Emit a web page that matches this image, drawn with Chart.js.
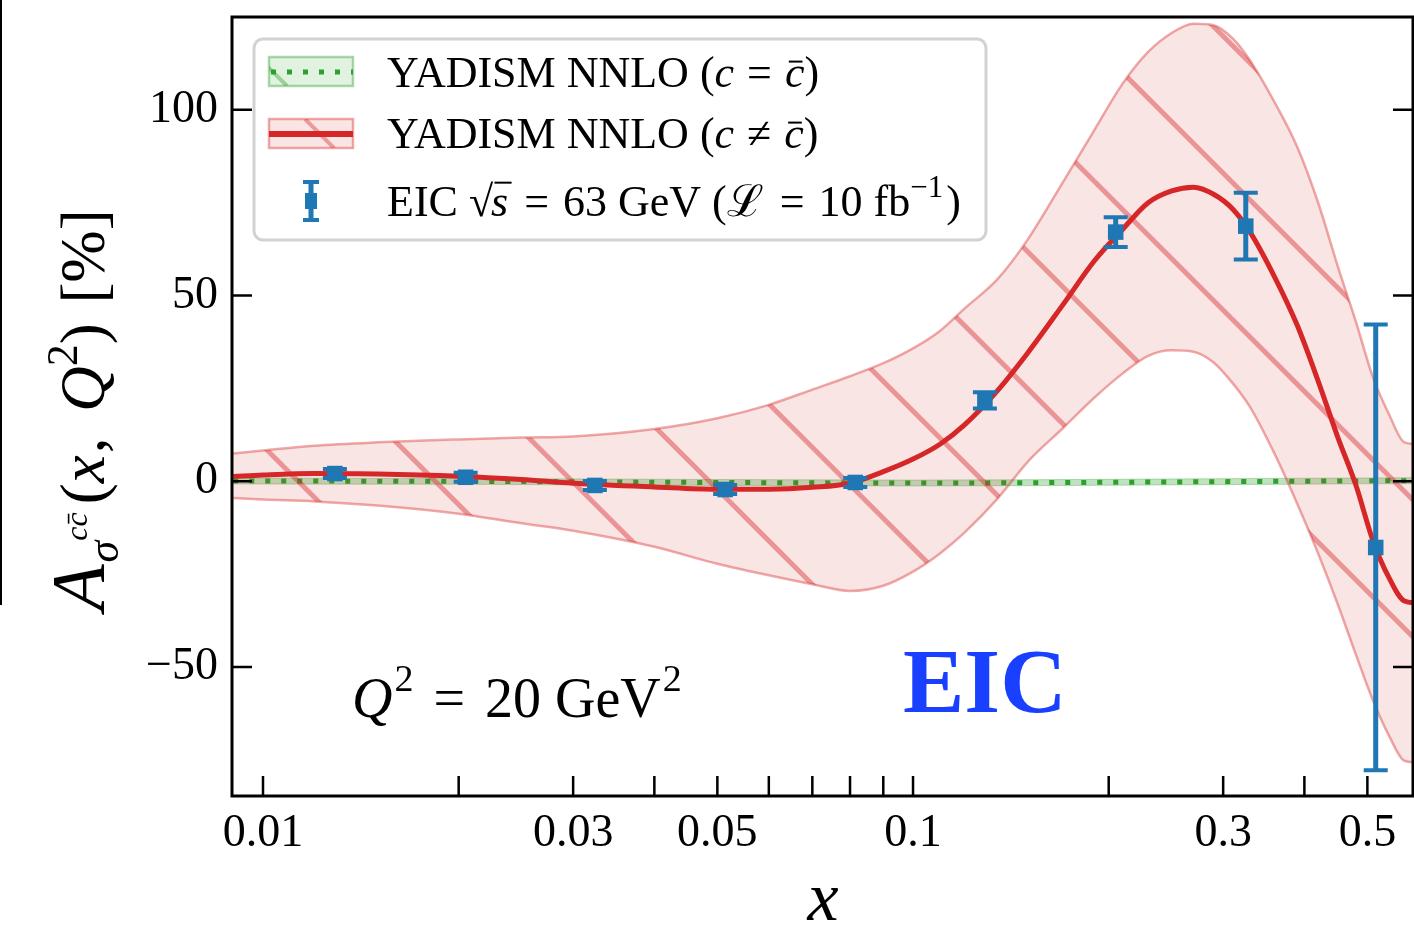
<!DOCTYPE html>
<html>
<head>
<meta charset="utf-8">
<script src="https://cdn.jsdelivr.net/npm/chart.js@4"></script>
<style>
html, body { margin: 0; padding: 0; background: #fff; }
</style>
</head>
<body>
<canvas id="asymChart" width="1414" height="928"></canvas>
<script>
// x grid of the theory curves (log x)
const xGrid = [0.009, 0.01, 0.012, 0.015, 0.02, 0.025, 0.03, 0.04, 0.05, 0.06, 0.07, 0.08, 0.09, 0.1, 0.11, 0.12, 0.135, 0.15, 0.17, 0.19,
  0.21, 0.23, 0.25, 0.27, 0.29, 0.31, 0.33, 0.36, 0.39, 0.42, 0.45, 0.48, 0.51, 0.54, 0.57, 0.6];
// YADISM NNLO (c != cbar): central value and uncertainty band [%]
const redCentral = [1.3, 1.7, 2.1, 2.0, 1.4, 0.5, -0.5, -1.5, -2.1, -2.1, -1.6, -0.5, 2.6, 6.0, 10.0, 15.2, 24.5, 34.5, 47.5, 59.3,
  67.8, 75, 78.2, 79.2, 77.3, 73.4, 67.1, 55, 42, 27, 12, -1, -16, -26, -32.2, -32.8];
const redUpper = [7.5, 8.3, 9.6, 10.5, 11.3, 11.8, 12.1, 14.1, 17, 20.6, 24.7, 28.3, 31.8, 35.8, 40.5, 46.5, 54.5, 65, 80.5, 94.5,
  107, 115.6, 120.7, 123.2, 122.8, 119.3, 113.3, 102, 90, 75, 58, 43, 28, 18, 10.5, 10];
const redLower = [-4.5, -4.9, -5.4, -6.5, -8.7, -11.3, -13.3, -17.6, -22.2, -25.3, -27.7, -29.5, -28.1, -24.3, -19.4, -13.8, -4.6, 5.2, 14.3, 22.5,
  29, 33.8, 35.3, 34.9, 32, 26.5, 20, 7.4, -6, -19.4, -33, -46.6, -59, -68.5, -75.2, -75.7];
// YADISM NNLO (c = cbar)
const greenX = [0.009, 0.02, 0.05, 0.1, 0.2, 0.4, 0.6];
const greenCentral = [0.1, 0.0, -0.3, -0.45, -0.25, 0.05, 0.2];
const greenUpper = [0.9, 0.8, 0.5, 0.35, 0.55, 0.85, 1.0];
const greenLower = [-0.7, -0.8, -1.1, -1.25, -1.05, -0.75, -0.6];
// EIC pseudodata, sqrt(s) = 63 GeV
const eicX = [0.0129, 0.0205, 0.0324, 0.0514, 0.0815, 0.129, 0.205, 0.325, 0.515];
const eicY = [2.1, 1.1, -1.1, -2.2, -0.3, 21.8, 67.1, 68.7, -17.8];
const eicErr = [1.2, 1.2, 1.2, 1.2, 1.2, 2.2, 4, 9, 60];
// ticks
const xTickValues = [0.01, 0.03, 0.05, 0.1, 0.3, 0.5];
const xMinorTicks = [0.02, 0.04, 0.06, 0.07, 0.08, 0.09, 0.2, 0.4];
const yTickValues = [-50, 0, 50, 100];

const SERIF = '"Liberation Serif", "DejaVu Serif", serif';
const RED = '#d62728', GREEN = '#2ca02c', BLUE = '#1f77b4';

const pts = (xs, ys) => xs.map((x, i) => ({ x: x, y: ys[i] }));

// hatch "\\" for the red band
function makeHatch() {
  const s = 137;
  const c = document.createElement('canvas');
  c.width = s; c.height = s;
  const g = c.getContext('2d');
  g.fillStyle = 'rgba(214,39,40,0.12)';
  g.fillRect(0, 0, s, s);
  g.strokeStyle = 'rgba(214,39,40,0.42)';
  g.lineWidth = 5;
  [-46, 91].forEach(k => {
    g.beginPath(); g.moveTo(k - 20, -20); g.lineTo(k + s + 20, s + 20); g.stroke();
  });
  return g.createPattern(c, 'repeat');
}

function fontOf(p, base) {
  return (p.it ? 'italic ' : '') + (p.b ? 'bold ' : '') + (p.size || base) + 'px ' + SERIF;
}
function richWidth(ctx, parts, base) {
  let w = 0;
  parts.forEach(p => { ctx.font = fontOf(p, base); w += ctx.measureText(p.t).width + (p.gap || 0) + (p.pre || 0); });
  return w;
}
function drawRich(ctx, x, y, parts, base) {
  parts.forEach(p => {
    ctx.font = fontOf(p, base);
    const w = ctx.measureText(p.t).width;
    const s = p.size || base;
    const yy = y + (p.dy || 0);
    ctx.fillText(p.t, x + (p.pre || 0), yy);
    if (p.bar) {
      ctx.fillRect(x + (p.pre || 0) + w * 0.2, yy - s * (p.barY || 0.6), w * (p.barW || 0.7), Math.max(1.6, s * 0.045));
    }
    x += w + (p.gap || 0) + (p.pre || 0);
  });
  return x;
}

const legendRows = [
  [{ t: 'YADISM NNLO (' }, { t: 'c', it: true }, { t: ' = ', pre: 2, gap: 2 }, { t: 'c', it: true, bar: true }, { t: ')' }],
  [{ t: 'YADISM NNLO (' }, { t: 'c', it: true }, { t: ' \u2260 ', pre: 2, gap: 2 }, { t: 'c', it: true, bar: true }, { t: ')' }],
  [{ t: 'EIC ' }, { t: '\u221A' }, { t: 's', it: true, bar: true, barY: 0.78, barW: 1.0, pre: -2, gap: 2 },
   { t: ' = ', pre: 3, gap: 3 }, { t: '63 GeV (' },
   { t: '\u2112', gap: 2 }, { t: ' = ', pre: 3, gap: 3 }, { t: '10 fb' }, { t: '\u22121', size: 31, dy: -19, gap: 3 }, { t: ')' }]
];
const yLabelParts = [
  { t: 'A', it: true, size: 76, gap: 2 }, { t: '\u03C3', it: true, size: 44, dy: 14 },
  { t: 'c', it: true, size: 32, dy: -17 }, { t: 'c', it: true, size: 32, dy: -17, bar: true, gap: 8 },
  { t: '(' }, { t: 'x', it: true, gap: 2 }, { t: ', ', gap: 10 }, { t: 'Q', it: true }, { t: '2', size: 44, dy: -27 }, { t: ')' },
  { t: ' [%]', pre: 4 }
];
const q2Parts = [{ t: 'Q', it: true, gap: 2 }, { t: '2', size: 38, dy: -26 }, { t: ' = ', pre: 6, gap: 6 }, { t: '20 GeV', gap: 2 },
  { t: '2', size: 38, dy: -26 }];

const decor = {
  id: 'decor',
  afterDatasetsDraw(chart) {
    const ctx = chart.ctx, xs = chart.scales.x, ys = chart.scales.y;
    ctx.save();
    ctx.strokeStyle = BLUE;
    eicX.forEach((x, i) => {
      const px = xs.getPixelForValue(x);
      const top = ys.getPixelForValue(eicY[i] + eicErr[i]);
      const bot = ys.getPixelForValue(eicY[i] - eicErr[i]);
      ctx.lineWidth = 5;
      ctx.beginPath(); ctx.moveTo(px, top); ctx.lineTo(px, bot); ctx.stroke();
      ctx.lineWidth = 4;
      ctx.beginPath();
      ctx.moveTo(px - 12, top); ctx.lineTo(px + 12, top);
      ctx.moveTo(px - 12, bot); ctx.lineTo(px + 12, bot);
      ctx.stroke();
    });
    ctx.restore();
  },
  afterDraw(chart) {
    const ctx = chart.ctx, a = chart.chartArea, xs = chart.scales.x, ys = chart.scales.y;
    ctx.save();
    // frame
    ctx.strokeStyle = '#000';
    ctx.lineWidth = 3;
    ctx.strokeRect(a.left, a.top, a.right - a.left, a.bottom - a.top);
    // inward ticks
    ctx.lineWidth = 2.5;
    ctx.beginPath();
    xTickValues.concat(xMinorTicks).forEach(v => {
      const px = xs.getPixelForValue(v);
      ctx.moveTo(px, a.bottom); ctx.lineTo(px, a.bottom - 20);
    });
    yTickValues.forEach(v => {
      const py = ys.getPixelForValue(v);
      ctx.moveTo(a.left, py); ctx.lineTo(a.left + 20, py);
      ctx.moveTo(a.right, py); ctx.lineTo(a.right - 20, py);
    });
    ctx.stroke();
    // stray edge line of the neighbouring panel
    ctx.lineWidth = 2;
    ctx.beginPath(); ctx.moveTo(1, 0); ctx.lineTo(1, 605); ctx.stroke();

    ctx.fillStyle = '#000';
    ctx.textBaseline = 'alphabetic';
    // x title
    ctx.font = 'italic 70px ' + SERIF;
    ctx.textAlign = 'center';
    ctx.fillText('x', 823, 920);
    ctx.textAlign = 'left';
    // y title
    ctx.save();
    ctx.translate(104, 410);
    ctx.rotate(-Math.PI / 2);
    const yw = richWidth(ctx, yLabelParts, 63);
    drawRich(ctx, -yw / 2, 0, yLabelParts, 63);
    ctx.restore();
    // annotations
    drawRich(ctx, 352, 717, q2Parts, 56);
    ctx.fillStyle = '#1a40ff';
    ctx.font = 'bold 92px ' + SERIF;
    ctx.fillText('EIC', 903, 712);

    // legend
    ctx.beginPath();
    ctx.roundRect(254, 39, 732, 201, 9);
    ctx.fillStyle = 'rgba(255,255,255,0.85)';
    ctx.fill();
    ctx.lineWidth = 3;
    ctx.strokeStyle = '#d2d2d2';
    ctx.stroke();
    const patch = (y, fill, edge, hx) => {
      ctx.fillStyle = fill; ctx.fillRect(269, y, 84, 29);
      ctx.save();
      ctx.beginPath(); ctx.rect(269, y, 84, 29); ctx.clip();
      ctx.strokeStyle = edge; ctx.lineWidth = 4;
      ctx.beginPath(); ctx.moveTo(hx, y); ctx.lineTo(hx + 29, y + 29); ctx.stroke();
      ctx.restore();
      ctx.strokeStyle = edge; ctx.lineWidth = 2.5; ctx.strokeRect(269, y, 84, 29);
    };
    // green handle
    patch(57, 'rgba(44,160,44,0.14)', 'rgba(44,160,44,0.4)', 258);
    ctx.strokeStyle = GREEN; ctx.lineWidth = 5; ctx.setLineDash([5, 11]);
    ctx.beginPath(); ctx.moveTo(271, 72); ctx.lineTo(353, 72); ctx.stroke();
    ctx.setLineDash([]);
    // red handle
    patch(119, 'rgba(214,39,40,0.12)', 'rgba(214,39,40,0.4)', 305);
    ctx.strokeStyle = RED; ctx.lineWidth = 6;
    ctx.beginPath(); ctx.moveTo(269, 134); ctx.lineTo(353, 134); ctx.stroke();
    // errorbar handle
    ctx.strokeStyle = BLUE; ctx.fillStyle = BLUE;
    ctx.lineWidth = 5;
    ctx.beginPath(); ctx.moveTo(311, 182); ctx.lineTo(311, 220); ctx.stroke();
    ctx.lineWidth = 4;
    ctx.beginPath(); ctx.moveTo(303, 182); ctx.lineTo(319, 182); ctx.moveTo(303, 220); ctx.lineTo(319, 220); ctx.stroke();
    ctx.fillRect(305, 193, 12, 16);
    // legend texts
    ctx.fillStyle = '#000';
    drawRich(ctx, 387, 87, legendRows[0], 44);
    drawRich(ctx, 387, 148, legendRows[1], 44);
    drawRich(ctx, 387, 216, legendRows[2], 44);
    ctx.restore();
  }
};

const ctx = document.getElementById('asymChart').getContext('2d');
const hatch = makeHatch();
const lineBase = { pointRadius: 0, cubicInterpolationMode: 'monotone', fill: false };

const asymChart = new Chart(ctx, {
  type: 'line',
  data: {
    datasets: [
      { ...lineBase, label: 'c != cbar', data: pts(xGrid, redCentral), borderColor: RED, borderWidth: 5, order: 1 },
      { ...lineBase, label: 'c != cbar upper', data: pts(xGrid, redUpper), borderColor: 'rgba(214,39,40,0.4)', borderWidth: 2.5,
        fill: '+1', backgroundColor: hatch, order: 2 },
      { ...lineBase, label: 'c != cbar lower', data: pts(xGrid, redLower), borderColor: 'rgba(214,39,40,0.4)', borderWidth: 2.5, order: 3 },
      { ...lineBase, label: 'c = cbar', data: pts(greenX, greenCentral), borderColor: GREEN, borderWidth: 5, borderDash: [5, 11], order: 4 },
      { ...lineBase, label: 'c = cbar upper', data: pts(greenX, greenUpper), borderColor: 'rgba(44,160,44,0.3)', borderWidth: 1,
        fill: '+1', backgroundColor: 'rgba(44,160,44,0.3)', order: 5 },
      { ...lineBase, label: 'c = cbar lower', data: pts(greenX, greenLower), borderColor: 'rgba(44,160,44,0.3)', borderWidth: 1, order: 6 },
      { label: 'EIC', data: pts(eicX, eicY), showLine: false, pointStyle: 'rect', pointRadius: 11, pointBorderWidth: 0,
        backgroundColor: BLUE, borderColor: BLUE, order: 0 }
    ]
  },
  options: {
    responsive: false,
    animation: false,
    devicePixelRatio: 1,
    layout: { autoPadding: false, padding: { top: 17, right: 1, left: 0, bottom: 0 } },
    plugins: { legend: { display: false }, tooltip: { enabled: false } },
    scales: {
      x: {
        type: 'logarithmic', min: 0.00896, max: 0.5877,
        afterBuildTicks: s => { s.ticks = xTickValues.map(v => ({ value: v })); },
        afterFit: s => { s.height = 132; s.paddingLeft = 0; s.paddingRight = 0; },
        grid: { display: false, drawTicks: false }, border: { display: false },
        ticks: { autoSkip: false, maxRotation: 0, padding: 10, color: '#000',
          font: { family: SERIF, size: 46 }, callback: v => String(v) }
      },
      y: {
        min: -84.7, max: 125,
        afterBuildTicks: s => { s.ticks = yTickValues.map(v => ({ value: v })); },
        afterFit: s => { s.width = 232; s.paddingTop = 0; s.paddingBottom = 0; },
        grid: { display: false, drawTicks: false }, border: { display: false },
        ticks: { padding: 14, color: '#000', font: { family: SERIF, size: 46 },
          callback: v => (v < 0 ? '\u2212' + Math.abs(v) : String(v)) }
      }
    }
  },
  plugins: [decor]
});
</script>
</body>
</html>
